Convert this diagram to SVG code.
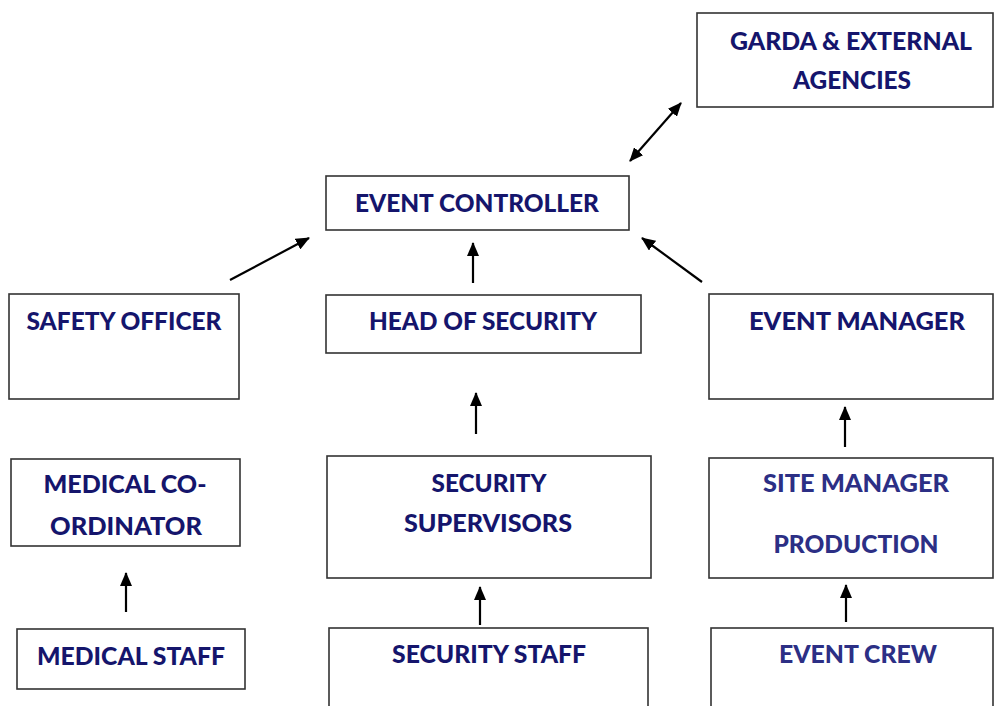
<svg xmlns="http://www.w3.org/2000/svg" width="996" height="706" viewBox="0 0 996 706">
<defs>
<marker id="ah" markerUnits="userSpaceOnUse" markerWidth="14" markerHeight="12" viewBox="0 0 14 12" refX="13" refY="6" orient="auto-start-reverse">
<path d="M0,0 L14,6 L0,12 Z" fill="#000"/>
</marker>
<style>
.box{fill:#fff;stroke:#333;stroke-width:1.6}
.t{font-family:Lato,"Open Sans","Liberation Sans",sans-serif;font-weight:900;font-size:25px;fill:#15156c;text-anchor:middle}
.t2{fill:#2c2f85}
.c{stroke:#000;stroke-width:2.2;fill:none;marker-end:url(#ah)}
</style>
</defs>
<rect width="996" height="706" fill="#fff"/>
<g id="garda"><rect class="box" x="697" y="13" width="296" height="94"/>
<text class="t" x="851" y="50" textLength="242" lengthAdjust="spacingAndGlyphs">GARDA &amp; EXTERNAL</text>
<text class="t" x="852" y="89" textLength="118" lengthAdjust="spacingAndGlyphs">AGENCIES</text></g>
<g id="controller"><rect class="box" x="326" y="176" width="303" height="54"/>
<text class="t" x="477" y="212" textLength="244" lengthAdjust="spacingAndGlyphs">EVENT CONTROLLER</text></g>
<g id="safety"><rect class="box" x="9" y="294" width="230" height="105"/>
<text class="t" x="124" y="330" textLength="195" lengthAdjust="spacingAndGlyphs">SAFETY OFFICER</text></g>
<g id="headsec"><rect class="box" x="326" y="295" width="315" height="58"/>
<text class="t" x="483" y="330" textLength="228" lengthAdjust="spacingAndGlyphs">HEAD OF SECURITY</text></g>
<g id="eventmgr"><rect class="box" x="709" y="294" width="284" height="105"/>
<text class="t" x="857" y="330" textLength="216" lengthAdjust="spacingAndGlyphs">EVENT MANAGER</text></g>
<g id="medcoord"><rect class="box" x="11" y="459" width="229" height="87"/>
<text class="t" x="125" y="493" textLength="163" lengthAdjust="spacingAndGlyphs">MEDICAL CO-</text>
<text class="t" x="126" y="535" textLength="152" lengthAdjust="spacingAndGlyphs">ORDINATOR</text></g>
<g id="secsup"><rect class="box" x="327" y="456" width="324" height="122"/>
<text class="t" x="489" y="492" textLength="115" lengthAdjust="spacingAndGlyphs">SECURITY</text>
<text class="t" x="488" y="532" textLength="168" lengthAdjust="spacingAndGlyphs">SUPERVISORS</text></g>
<g id="sitemgr"><rect class="box" x="709" y="458" width="284" height="120"/>
<text class="t t2" x="856" y="492" textLength="186" lengthAdjust="spacingAndGlyphs">SITE MANAGER</text>
<text class="t t2" x="856" y="553" textLength="165" lengthAdjust="spacingAndGlyphs">PRODUCTION</text></g>
<g id="medstaff"><rect class="box" x="17" y="629" width="228" height="60"/>
<text class="t" x="131" y="665" textLength="188" lengthAdjust="spacingAndGlyphs">MEDICAL STAFF</text></g>
<g id="secstaff"><rect class="box" x="329" y="628" width="319" height="90"/>
<text class="t" x="489" y="663" textLength="194" lengthAdjust="spacingAndGlyphs">SECURITY STAFF</text></g>
<g id="crew"><rect class="box" x="711" y="628" width="282" height="90"/>
<text class="t t2" x="858" y="663" textLength="158" lengthAdjust="spacingAndGlyphs">EVENT CREW</text></g>
<g id="connectors">
<line class="c" x1="630" y1="161" x2="681" y2="103" style="marker-start:url(#ah)"/>
<line class="c" x1="230" y1="280" x2="309" y2="238"/>
<line class="c" x1="473" y1="283" x2="473" y2="243"/>
<line class="c" x1="702" y1="282" x2="642" y2="238"/>
<line class="c" x1="476" y1="434" x2="476" y2="393"/>
<line class="c" x1="845" y1="447" x2="845" y2="407"/>
<line class="c" x1="126" y1="612" x2="126" y2="573"/>
<line class="c" x1="480" y1="625" x2="480" y2="587"/>
<line class="c" x1="846" y1="622" x2="846" y2="585"/>
</g>
</svg>
